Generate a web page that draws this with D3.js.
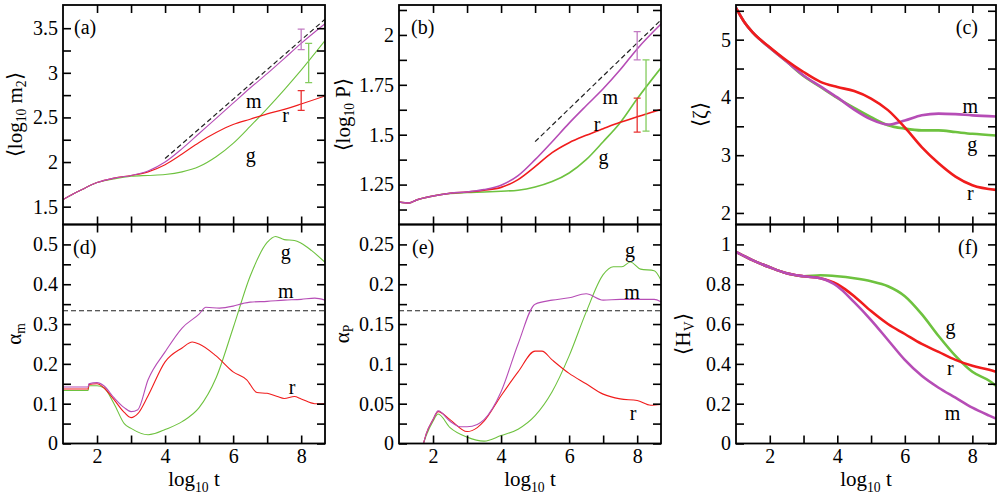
<!DOCTYPE html>
<html>
<head>
<meta charset="utf-8">
<script src="https://cdn.jsdelivr.net/npm/d3@7"></script>
<style>
  body { margin: 0; background: #fff; }
  svg { display: block; font-family: "Liberation Serif", "Times New Roman", serif; }
</style>
</head>
<body>
<div id="chart"></div>
<script>
// ---- data: [log10 t, value] ----
const aM = [[1,1.58],[1.5,1.68],[2,1.77],[2.5,1.82],[3,1.85],[3.5,1.9],[4,2.0],[4.5,2.15],[5,2.32],[5.5,2.49],[6,2.66],[6.5,2.83],[7,2.99],[7.5,3.16],[8,3.33],[8.7,3.55]];
const aR = [[1,1.58],[1.5,1.68],[2,1.77],[2.5,1.82],[3,1.85],[3.5,1.89],[4,1.97],[4.5,2.09],[5,2.22],[5.5,2.33],[6,2.42],[6.5,2.48],[7,2.54],[7.5,2.59],[8,2.65],[8.7,2.74]];
const aG = [[1,1.58],[1.5,1.68],[2,1.77],[2.5,1.81],[3,1.84],[3.5,1.85],[4,1.86],[4.5,1.89],[5,1.95],[5.5,2.06],[6,2.21],[6.5,2.4],[7,2.6],[7.5,2.81],[8,3.03],[8.7,3.36]];
const aDash = [[4,2.04],[8.7,3.6]];
const aErr = [["m",8,3.26,3.49],["g",8.22,2.89,3.33],["r",8,2.58,2.8]];

const bM = [[1,1.163],[1.3,1.158],[1.5,1.172],[2,1.193],[2.5,1.207],[3,1.213],[3.5,1.225],[4,1.247],[4.5,1.295],[5,1.375],[5.5,1.465],[6,1.558],[6.5,1.645],[7,1.73],[7.5,1.825],[8,1.93],[8.7,2.055]];
const bR = [[1,1.163],[1.3,1.158],[1.5,1.172],[2,1.193],[2.5,1.207],[3,1.213],[3.5,1.222],[4,1.236],[4.5,1.275],[5,1.34],[5.5,1.41],[6,1.46],[6.5,1.497],[7,1.53],[7.5,1.562],[8,1.59],[8.7,1.627]];
const bG = [[1,1.163],[1.3,1.158],[1.5,1.172],[2,1.193],[2.5,1.205],[3,1.21],[3.5,1.213],[4,1.217],[4.5,1.222],[5,1.238],[5.5,1.265],[6,1.308],[6.5,1.375],[7,1.465],[7.5,1.56],[8,1.68],[8.7,1.835]];
const bDash = [[5,1.465],[8.7,2.075]];
const bErr = [["m",8,1.875,2.017],["g",8.26,1.518,1.875],["r",8,1.513,1.683]];

const cR = [[1,5.55],[1.25,5.3],[1.5,5.12],[2,4.87],[2.5,4.64],[3,4.44],[3.5,4.27],[4,4.18],[4.5,4.11],[5,3.98],[5.5,3.78],[6,3.48],[6.5,3.14],[7,2.86],[7.5,2.63],[8,2.48],[8.7,2.4]];
const cM = [[1,5.55],[1.25,5.3],[1.5,5.12],[2,4.86],[2.5,4.62],[3,4.38],[3.5,4.19],[4,4.0],[4.5,3.79],[5,3.62],[5.5,3.53],[6,3.6],[6.5,3.69],[7,3.72],[7.5,3.71],[8,3.69],[8.7,3.67]];
const cG = [[1,5.55],[1.25,5.3],[1.5,5.12],[2,4.86],[2.5,4.62],[3,4.37],[3.5,4.18],[4,3.99],[4.5,3.82],[5,3.66],[5.5,3.52],[6,3.46],[6.5,3.43],[7,3.43],[7.5,3.4],[8,3.37],[8.7,3.34]];

const dM = [[1,0.142],[1.74,0.142],[1.76,0.15],[2,0.153],[2.2,0.145],[2.5,0.115],[2.8,0.09],[3,0.08],[3.2,0.085],[3.5,0.16],[4,0.23],[4.5,0.29],[5,0.325],[5.2,0.342],[5.6,0.34],[6,0.345],[6.3,0.352],[6.5,0.355],[7,0.357],[7.5,0.36],[8,0.362],[8.4,0.365],[8.7,0.36]];
const dR = [[1,0.137],[1.74,0.137],[1.76,0.148],[2,0.15],[2.2,0.14],[2.5,0.11],[2.8,0.078],[3,0.065],[3.2,0.075],[3.5,0.12],[4,0.205],[4.5,0.24],[4.8,0.255],[5,0.25],[5.5,0.22],[6,0.18],[6.4,0.16],[6.7,0.128],[7,0.126],[7.3,0.118],[7.5,0.113],[7.8,0.118],[8,0.112],[8.4,0.1],[8.7,0.1]];
const dG = [[1,0.133],[1.74,0.133],[1.76,0.145],[2,0.145],[2.2,0.14],[2.5,0.1],[2.8,0.05],[3,0.038],[3.5,0.022],[3.7,0.025],[4,0.035],[4.5,0.055],[5,0.09],[5.5,0.165],[6,0.29],[6.5,0.42],[7,0.505],[7.25,0.52],[7.5,0.512],[7.8,0.51],[8,0.503],[8.3,0.485],[8.7,0.455]];
const dDash = [[1,1/3],[8.7,1/3]];

const eM = [[1.72,0],[1.8,0.012],[2,0.03],[2.15,0.041],[2.5,0.028],[2.8,0.021],[3,0.021],[3.3,0.024],[3.5,0.03],[4,0.065],[4.5,0.125],[5,0.175],[5.5,0.18],[6,0.183],[6.5,0.188],[7,0.18],[7.5,0.181],[8,0.181],[8.5,0.181],[8.7,0.178]];
const eR = [[1.72,0],[1.8,0.012],[2,0.03],[2.15,0.04],[2.5,0.03],[3,0.015],[3.3,0.02],[3.5,0.028],[4,0.06],[4.5,0.09],[5,0.116],[5.2,0.116],[5.5,0.105],[6,0.088],[6.5,0.075],[7,0.062],[7.5,0.056],[8,0.054],[8.4,0.048],[8.7,0.049]];
const eG = [[1.72,0],[1.8,0.01],[2,0.028],[2.15,0.037],[2.5,0.02],[3,0.008],[3.5,0.003],[4,0.01],[4.5,0.018],[5,0.035],[5.5,0.065],[6,0.11],[6.5,0.165],[7,0.212],[7.3,0.222],[7.55,0.222],[7.8,0.228],[8.1,0.219],[8.5,0.217],[8.7,0.205]];
const eDash = [[1,1/6],[8.7,1/6]];

const fG = [[1,0.963],[1.5,0.92],[2,0.885],[2.5,0.855],[3,0.84],[3.5,0.845],[4,0.84],[4.5,0.83],[5,0.815],[5.5,0.79],[6,0.74],[6.5,0.65],[7,0.54],[7.5,0.44],[8,0.36],[8.5,0.315],[8.7,0.29]];
const fR = [[1,0.963],[1.5,0.92],[2,0.885],[2.5,0.855],[3,0.84],[3.5,0.83],[4,0.8],[4.5,0.74],[5,0.665],[5.5,0.6],[6,0.55],[6.5,0.5],[7,0.46],[7.5,0.42],[8,0.39],[8.5,0.37],[8.7,0.36]];
const fM = [[1,0.963],[1.5,0.92],[2,0.885],[2.5,0.855],[3,0.84],[3.5,0.83],[4,0.79],[4.5,0.71],[5,0.62],[5.5,0.52],[6,0.42],[6.5,0.34],[7,0.28],[7.5,0.23],[8,0.18],[8.5,0.14],[8.7,0.125]];

// tick values
const xMajor = [2, 4, 6, 8];
const xMinor = [3, 5, 7];
const yTicksA = [1.5, 2, 2.5, 3, 3.5], yMinorA = [1.75, 2.25, 2.75, 3.25];
const yTicksB = [1.25, 1.5, 1.75, 2], yMinorB = [1.125, 1.375, 1.625, 1.875, 2.125];
const yTicksC = [2, 3, 4, 5], yMinorC = [2.5, 3.5, 4.5, 5.5];
const yTicksD = [0, 0.1, 0.2, 0.3, 0.4, 0.5], yMinorD = [0.05, 0.15, 0.25, 0.35, 0.45];
const yTicksE = [0, 0.05, 0.1, 0.15, 0.2, 0.25], yMinorE = [0.025, 0.075, 0.125, 0.175, 0.225];
const yTicksF = [0, 0.2, 0.4, 0.6, 0.8, 1], yMinorF = [0.1, 0.3, 0.5, 0.7, 0.9];

// series labels: [name, log10 t, value]
const labA = [["m",6.61,2.68],["r",7.54,2.53],["g",6.52,2.08]];
const labB = [["m",7.21,1.69],["r",6.82,1.555],["g",7.01,1.39]];
const labC = [["m",7.94,3.86],["g",8.0,3.2],["r",7.94,2.34]];
const labD = [["g",7.55,0.481],["m",7.55,0.383],["r",7.73,0.141]];
const labE = [["g",7.79,0.243],["m",7.85,0.19],["r",7.88,0.038]];
const labF = [["g",7.35,0.584],["r",7.35,0.379],["m",7.41,0.153]];

const colors = {m: "#b64db6", r: "#f01c1c", g: "#6ec23f"};
const barColors = {m: "#c27ac2", r: "#e83030", g: "#84cc5e"};

const svg = d3.select("#chart").append("svg")
    .attr("width", 998)
    .attr("height", 495);

const top0 = 5, mid = 224.5, bot = 443.5;

const panels = [
  {id: "a", x0: 63, x1: 325, y0: top0, y1: mid, dom: [1.3, 3.76], yt: yTicksA, ym: yMinorA,
   series: [["g", aG], ["r", aR], ["m", aM]], lw: 1.1, dash: aDash, err: aErr, labels: labA,
   tag: "(a)", tagX: 11, tagEnd: false, yLabel: [["⟨log", 0], ["10", 1], [" m", 0], ["2", 1], ["⟩", 0]], yLabelOff: 48, xLabel: false},
  {id: "b", x0: 399, x1: 661, y0: top0, y1: mid, dom: [1.05, 2.15], yt: yTicksB, ym: yMinorB,
   series: [["g", bG], ["r", bR], ["m", bM]], lw: 1.6, dash: bDash, err: bErr, labels: labB,
   tag: "(b)", tagX: 12, tagEnd: false, yLabel: [["⟨log", 0], ["10", 1], [" P⟩", 0]], yLabelOff: 56, xLabel: false},
  {id: "c", x0: 736, x1: 996, y0: top0, y1: mid, dom: [1.8, 5.6], yt: yTicksC, ym: yMinorC,
   series: [["g", cG], ["m", cM], ["r", cR]], lw: 2.6, dash: null, err: [], labels: labC,
   tag: "(c)", tagX: 242, tagEnd: true, yLabel: [["⟨ζ⟩", 0]], yLabelOff: 36, xLabel: false},
  {id: "d", x0: 63, x1: 325, y0: mid, y1: bot, dom: [0, 0.55], yt: yTicksD, ym: yMinorD,
   series: [["g", dG], ["r", dR], ["m", dM]], lw: 1.1, dash: dDash, err: [], labels: labD,
   tag: "(d)", tagX: 10, tagEnd: false, yLabel: [["α", 0], ["m", 1]], yLabelOff: 49, xLabel: true},
  {id: "e", x0: 399, x1: 661, y0: mid, y1: bot, dom: [0, 0.275], yt: yTicksE, ym: yMinorE,
   series: [["g", eG], ["r", eR], ["m", eM]], lw: 1.1, dash: eDash, err: [], labels: labE,
   tag: "(e)", tagX: 13, tagEnd: false, yLabel: [["α", 0], ["P", 1]], yLabelOff: 57, xLabel: true},
  {id: "f", x0: 736, x1: 996, y0: mid, y1: bot, dom: [0, 1.1], yt: yTicksF, ym: yMinorF,
   series: [["g", fG], ["r", fR], ["m", fM]], lw: 2.6, dash: null, err: [], labels: labF,
   tag: "(f)", tagX: 242, tagEnd: true, yLabel: [["⟨H", 0], ["V", 1], ["⟩", 0]], yLabelOff: 53, xLabel: true}
];

// builds text with subscript tspans
function richText(sel, parts, size) {
  let sub = 0;
  parts.forEach(([t, s]) => {
    const dy = s && !sub ? size * 0.3 : (!s && sub ? -size * 0.3 : 0);
    sel.append("tspan")
      .attr("dy", dy)
      .attr("font-size", s ? size * 0.65 : size)
      .text(t);
    sub = s;
  });
}

panels.forEach(p => {
  const w = p.x1 - p.x0, h = p.y1 - p.y0;
  const g = svg.append("g").attr("transform", `translate(${p.x0},${p.y0})`);

  const x = d3.scaleLinear().domain([1, 8.7]).range([0, w]);
  const y = d3.scaleLinear().domain(p.dom).range([h, 0]);

  g.append("clipPath").attr("id", "clip" + p.id)
    .append("rect").attr("width", w).attr("height", h);
  const plot = g.append("g").attr("clip-path", `url(#clip${p.id})`);

  const line = d3.line().x(d => x(d[0])).y(d => y(d[1])).curve(d3.curveMonotoneX);

  //dashed reference line
  if (p.dash) {
    plot.append("path")
      .datum(p.dash)
      .attr("d", d3.line().x(d => x(d[0])).y(d => y(d[1])))
      .attr("fill", "none")
      .attr("stroke", "#222")
      .attr("stroke-width", 1.2)
      .attr("stroke-dasharray", "5,3");
  }

  //curves
  p.series.forEach(([k, data]) => {
    plot.append("path")
      .datum(data)
      .attr("d", line)
      .attr("fill", "none")
      .attr("stroke", colors[k])
      .attr("stroke-width", p.lw)
      .attr("stroke-linejoin", "round");
  });

  //error bars
  p.err.forEach(([k, t, lo, hi]) => {
    const eb = plot.append("g").attr("stroke", barColors[k]).attr("stroke-width", 1.3);
    eb.append("line").attr("x1", x(t)).attr("x2", x(t)).attr("y1", y(lo)).attr("y2", y(hi));
    eb.append("line").attr("x1", x(t) - 3.5).attr("x2", x(t) + 3.5).attr("y1", y(lo)).attr("y2", y(lo));
    eb.append("line").attr("x1", x(t) - 3.5).attr("x2", x(t) + 3.5).attr("y1", y(hi)).attr("y2", y(hi));
  });

  //axes, ticks inward on all sides
  const yAll = p.yt.concat(p.ym);
  const yFmt = d => p.yt.includes(d) ? String(d) : "";
  const xAll = xMajor.concat(xMinor);
  const xFmt = d => xMajor.includes(d) ? String(d) : "";

  const axes = [
    [d3.axisLeft(y).tickValues(yAll).tickFormat(yFmt), `translate(0,0)`],
    [d3.axisRight(y).tickValues(yAll).tickFormat(""), `translate(${w},0)`],
    [d3.axisTop(x).tickValues(xAll).tickFormat(""), `translate(0,0)`],
    [d3.axisBottom(x).tickValues(xAll).tickFormat(p.xLabel ? xFmt : ""), `translate(0,${h})`]
  ];
  axes.forEach(([ax, tr]) => {
    const a = g.append("g")
      .attr("transform", tr)
      .call(ax.tickSize(-8).tickPadding(5));
    a.select(".domain").remove();
    a.selectAll("line").attr("stroke", "#000").attr("stroke-width", 1.6);
    a.selectAll("text")
      .attr("fill", "#000")
      .attr("font-family", "Liberation Serif, serif")
      .attr("font-size", 20);
  });

  g.append("rect")
    .attr("width", w).attr("height", h)
    .attr("fill", "none")
    .attr("stroke", "#000")
    .attr("stroke-width", 1.8);

  //panel tag
  g.append("text")
    .attr("x", p.tagX)
    .attr("y", 29)
    .attr("text-anchor", p.tagEnd ? "end" : "start")
    .attr("font-size", 20)
    .text(p.tag);

  //series labels
  p.labels.forEach(([k, t, v]) => {
    g.append("text")
      .attr("x", x(t))
      .attr("y", y(v))
      .attr("text-anchor", "middle")
      .attr("dominant-baseline", "central")
      .attr("font-size", 20)
      .text(k);
  });

  //y label
  const yl = g.append("text")
    .attr("transform", `translate(${-p.yLabelOff},${h / 2}) rotate(-90)`)
    .attr("text-anchor", "middle")
    .attr("dominant-baseline", "central");
  richText(yl, p.yLabel, 21);

  //x label
  if (p.xLabel) {
    const xl = g.append("text")
      .attr("x", w / 2)
      .attr("y", h + 42)
      .attr("text-anchor", "middle");
    richText(xl, [["log", 0], ["10", 1], [" t", 0]], 21);
  }
});
</script>
</body>
</html>
